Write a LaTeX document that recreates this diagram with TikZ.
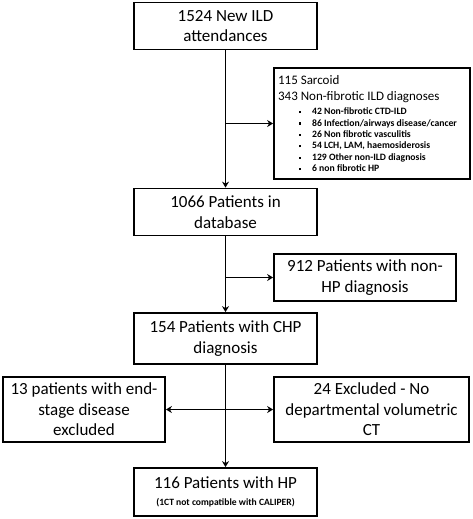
\documentclass[tikz,border=0pt]{standalone}
\usepackage{fontspec}
\setmainfont{Carlito}
\usepackage{tikz}
\usetikzlibrary{arrows.meta,positioning}
\tikzstyle{flowbox} = [draw=black, fill=white, line width=1.8pt,
    rectangle, align=center, inner sep=2pt,
    font=\fontsize{17}{20.5}\selectfont]
\tikzstyle{flowline} = [line width=1.4pt, -{Stealth[length=6pt,width=7pt,inset=2pt]}]
\newcommand{\itm}[1]{\hspace*{21pt}\makebox[13pt][l]{\rule[1.5pt]{2.2pt}{2.2pt}}#1}

\begin{document}
\begin{tikzpicture}[x=1pt,y=1pt]
    \useasboundingbox (0,0) rectangle (473,-519);
    % main column
    \node [flowbox, minimum width=183pt, minimum height=47pt] (attend) at (225.5,-26) {1524 New ILD\\attendances};
    \node [flowbox, minimum width=183pt, minimum height=47pt] (database) at (225.5,-212) {1066 Patients in\\database};
    \node [flowbox, minimum width=183pt, minimum height=51pt] (chp) at (225.5,-338.5) {154 Patients with CHP\\diagnosis};
    \node [flowbox, minimum width=183pt, minimum height=48pt] (final) at (225.5,-492) {116 Patients with HP\\[-3pt]{\fontsize{9.6}{11}\selectfont\bfseries (1CT not compatible with CALIPER)}};
    % exclusions
    \node [flowbox, align=left, inner sep=0pt, minimum width=196pt, minimum height=111pt] (nonild) at (372,-123.5) {%
        \begin{minipage}{184pt}
            \fontsize{13}{16.5}\selectfont
            115 Sarcoid\\
            343 Non-fibrotic ILD diagnoses\par
            \vspace{2.5pt}
            \fontsize{9.7}{11.4}\selectfont\bfseries
            \itm{42 Non-fibrotic CTD-ILD}\\
            \itm{86 Infection/airways disease/cancer}\\
            \itm{26 Non fibrotic vasculitis}\\
            \itm{54 LCH, LAM, haemosiderosis}\\
            \itm{129 Other non-ILD diagnosis}\\
            \itm{6 non fibrotic HP}
        \end{minipage}
    };
    \node [flowbox, minimum width=182pt, minimum height=47pt] (nonhp) at (365,-277.5) {912 Patients with non-\\HP diagnosis};
    \node [flowbox, minimum width=162pt, minimum height=65pt] (endstage) at (84,-409.5) {13 patients with end-\\stage disease\\excluded};
    \node [flowbox, minimum width=195pt, minimum height=65pt] (nodept) at (371.5,-409.5) {24 Excluded - No\\departmental volumetric\\CT};
    % connectors
    \draw [flowline] (attend) -- (database);
    \draw [flowline] (database) -- (chp);
    \draw [flowline] (chp) -- (final);
    \draw [flowline] (attend.south |- nonild.west) -- (nonild.west);
    \draw [flowline] (database.south |- nonhp.west) -- (nonhp.west);
    \draw [flowline, {Stealth[length=6pt,width=7pt,inset=2pt]}-{Stealth[length=6pt,width=7pt,inset=2pt]}] (endstage) -- (nodept);
\end{tikzpicture}
\end{document}
